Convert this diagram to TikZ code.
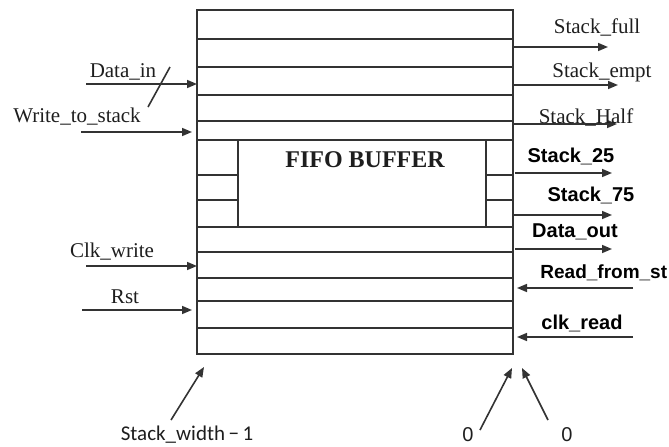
\documentclass[tikz,border=0pt]{standalone}
\usepackage{fontspec}
\setmainfont{Liberation Serif}
\newfontfamily\arialf{Liberation Sans}
\newfontfamily\calf{Carlito}
\usetikzlibrary{arrows.meta}
\definecolor{linec}{HTML}{333333}
\definecolor{txtc}{HTML}{1E1E1E}
\begin{document}
\begin{tikzpicture}[x=0.5pt,y=-0.5pt,
  box/.style={draw=linec, line width=1pt},
  sig/.style={draw=linec, line width=0.8pt, -{Triangle[length=5pt,width=4pt]}},
  serlab/.style={font=\fontsize{10.5}{12}\selectfont, text=txtc, inner sep=0pt},
  boldlab/.style={font=\arialf\bfseries\fontsize{10}{12}\selectfont, text=black, inner sep=0pt},
  titlelab/.style={font=\bfseries\fontsize{12}{14}\selectfont, text=txtc, inner sep=0pt},
  callab/.style={font=\calf\fontsize{10.5}{12}\selectfont, text=txtc, inner sep=0pt},
  zerolab/.style={font=\arialf\fontsize{10}{12}\selectfont, text=txtc, inner sep=0pt},
]
\useasboundingbox (0,0) rectangle (669,446);
% outer stack
\draw[box] (197,10) rectangle (513,354);
\foreach \yy in {38.5,66.5,94.5,121,140,227,252,278,301,328}
  \draw[box] (197,\yy) -- (513,\yy);
% inner FIFO box and side cells
\draw[box, fill=white] (238,140) rectangle (486,227);
\foreach \yy in {175,200} {
  \draw[box] (197,\yy) -- (238,\yy);
  \draw[box] (486,\yy) -- (513,\yy);
}
\node[titlelab] (title) at (365,160) {FIFO BUFFER};

% left inputs
\coordinate (dinA) at (86,84);   \coordinate (dinB) at (197,84);
\coordinate (wrA) at (81,132);   \coordinate (wrB) at (192,132);
\coordinate (ckA) at (86,266);   \coordinate (ckB) at (197,266);
\coordinate (rsA) at (82,310);   \coordinate (rsB) at (192,310);
\draw[sig] (dinA) -- (dinB);
\draw[sig] (wrA) -- (wrB);
\draw[sig] (ckA) -- (ckB);
\draw[sig] (rsA) -- (rsB);
\coordinate (slA) at (148,107); \coordinate (slB) at (170,67);
\draw[draw=linec, line width=0.8pt] (slA) -- (slB);
\node[serlab] (ldin) at (123,72) {Data\_in};
\node[serlab] (lwr) at (77,117) {Write\_to\_stack};
\node[serlab] (lck) at (112,252) {Clk\_write};
\node[serlab] (lrs) at (125,297) {Rst};

% right outputs
\coordinate (sfA) at (513,47);  \coordinate (sfB) at (608,47);
\coordinate (seA) at (513,85);  \coordinate (seB) at (618,85);
\coordinate (shA) at (513,124); \coordinate (shB) at (617,124);
\coordinate (s25A) at (515,173); \coordinate (s25B) at (612,173);
\coordinate (s75A) at (513,215); \coordinate (s75B) at (612,215);
\coordinate (doA) at (515,249); \coordinate (doB) at (612,249);
\coordinate (rdA) at (633,288); \coordinate (rdB) at (517,288);
\coordinate (crA) at (633,337); \coordinate (crB) at (517,337);
\draw[sig] (sfA) -- (sfB);
\draw[sig] (seA) -- (seB);
\draw[sig] (shA) -- (shB);
\draw[sig] (s25A) -- (s25B);
\draw[sig] (s75A) -- (s75B);
\draw[sig] (doA) -- (doB);
\draw[sig] (rdA) -- (rdB);
\draw[sig] (crA) -- (crB);
\node[serlab] (lsf) at (597,27) {Stack\_full};
\node[serlab, anchor=west] (lse) at (552,72) {Stack\_empt};
\node[serlab] (lsh) at (586,117) {Stack\_Half};
\node[boldlab] (ls25) at (571,156) {Stack\_25};
\node[boldlab] (ls75) at (591,195) {Stack\_75};
\node[boldlab] (ldo) at (575,232) {Data\_out};
\node[boldlab, font=\arialf\bfseries\fontsize{9.5}{12}\selectfont, anchor=west] (lrd) at (540,273) {Read\_from\_st};
\node[boldlab] (lcr) at (582,323) {clk\_read};

% bottom indices
\coordinate (swA) at (171,420); \coordinate (swB) at (204,367);
\coordinate (z1A) at (480,430); \coordinate (z1B) at (512,368);
\coordinate (z2A) at (548,420); \coordinate (z2B) at (522,368);
\draw[sig] (swA) -- (swB);
\draw[sig] (z1A) -- (z1B);
\draw[sig] (z2A) -- (z2B);
\node[callab] (lsw) at (187,435) {Stack\_width\,−\,1};
\node[zerolab] (lz1) at (468,435) {0};
\node[zerolab] (lz2) at (567,435) {0};
\end{tikzpicture}
\end{document}
